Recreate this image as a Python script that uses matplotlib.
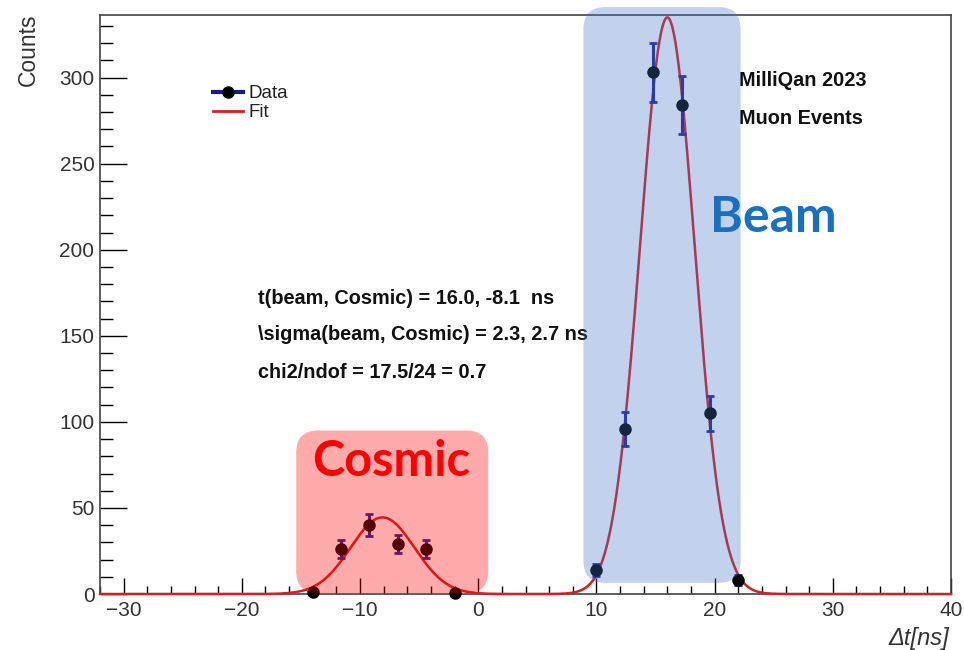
import numpy as np
import matplotlib
matplotlib.use("Agg")
import matplotlib.pyplot as plt
from matplotlib.patches import FancyBboxPatch
from matplotlib.lines import Line2D
from matplotlib.ticker import MultipleLocator

# ---- data ----
bin_centers = [-14.0, -11.6, -9.2, -6.8, -4.4, -2.0, 10.0, 12.4, 14.8, 17.2, 19.6, 22.0]
counts      = [1, 26, 40, 29, 26, 0.5, 14, 96, 303, 284, 105, 8]
count_errs  = [1.0, 5.1, 6.3, 5.4, 5.1, 0.7, 3.7, 9.8, 17.4, 16.9, 10.2, 2.8]

# fit parameters (double Gaussian)
beam_amp, beam_mean, beam_sigma = 335.0, 16.0, 2.3
cosmic_amp, cosmic_mean, cosmic_sigma = 44.5, -8.1, 2.7

x_ticks = [-30, -20, -10, 0, 10, 20, 30, 40]
x_tick_labels = ["\u221230", "\u221220", "\u221210", "0", "10", "20", "30", "40"]
y_ticks = [0, 50, 100, 150, 200, 250, 300]

stats_lines = ["t(beam, Cosmic) = 16.0, -8.1  ns",
               "\\sigma(beam, Cosmic) = 2.3, 2.7 ns",
               "chi2/ndof = 17.5/24 = 0.7"]

# highlighted regions in data units: (x0, x1, y0, y1)
cosmic_region = (-15.4, 0.85, 0.5, 95)
beam_region = (8.9, 22.2, 6.5, 341)

W, H = 964, 650
fig = plt.figure(figsize=(W / 100, H / 100), dpi=100)
fig.patch.set_facecolor("white")
ax = fig.add_axes([100 / W, (H - 594) / H, (951 - 100) / W, (594 - 15) / H])
ax.set_facecolor("white")

ax.set_xlim(-32, 40)
ax.set_ylim(0, 336.4)

# fit curve
xf = np.linspace(-32, 40, 2000)
yf = (beam_amp * np.exp(-(xf - beam_mean) ** 2 / (2 * beam_sigma ** 2))
      + cosmic_amp * np.exp(-(xf - cosmic_mean) ** 2 / (2 * cosmic_sigma ** 2)))
ax.plot(xf, yf, color="#d42020", lw=1.8, zorder=3, clip_on=False)

# data
ax.errorbar(bin_centers, counts, yerr=count_errs, fmt="o", color="black",
            ms=8, ecolor="#22229a", elinewidth=2.2, capsize=3, capthick=2,
            zorder=4, clip_on=False)

# axes styling
ax.set_xticks(x_ticks)
ax.set_yticks(y_ticks)
ax.set_xticklabels(x_tick_labels)
ax.xaxis.set_minor_locator(MultipleLocator(2))
ax.yaxis.set_minor_locator(MultipleLocator(10))
for lbl in ax.get_xticklabels() + ax.get_yticklabels():
    lbl.set_fontfamily("Liberation Sans")
    lbl.set_fontsize(15)
    lbl.set_color("#333333")
ax.tick_params(axis="x", which="major", direction="in", length=11.5, width=1, pad=5, top=False)
ax.tick_params(axis="x", which="minor", direction="in", length=5.8, width=1, top=False)
ax.tick_params(axis="y", which="major", direction="in", length=19.5, width=1, pad=4, right=False)
ax.tick_params(axis="y", which="minor", direction="in", length=9.5, width=1, right=False)
for s in ax.spines.values():
    s.set_color("#444444")
    s.set_linewidth(1.2)

fig.text(28 / W, 1 - 14 / H, "Counts", rotation=90, ha="center", va="top",
         fontsize=16.5, family="Liberation Sans", color="#333333")
fig.text(949 / W, 1 - 638 / H, "\u0394t[ns]", ha="right", va="center",
         fontsize=17, family="Liberation Sans", style="italic", color="#333333")

# legend
handles = [Line2D([], [], color="#1a1a80", lw=3, marker="o", mfc="black", mec="black", ms=8),
           Line2D([], [], color="#d42020", lw=2)]
leg = ax.legend(handles, ["Data", "Fit"], loc="upper left",
                bbox_to_anchor=((213 - 100) / 851, 1 - (85 - 15) / 579),
                frameon=False, handlelength=1.6, handletextpad=0.3,
                labelspacing=0.1, borderpad=0, borderaxespad=0,
                prop={"family": "Liberation Sans", "size": 13.5})
for t in leg.get_texts():
    t.set_color("#222222")

# stats text
for i, line in enumerate(stats_lines):
    fig.text(258 / W, 1 - (298 + 37 * i) / H, line, ha="left", va="center",
             fontsize=14.3, family="Liberation Sans", fontweight="bold", color="#111111")

fig.text(739 / W, 1 - 80 / H, "MilliQan 2023", ha="left", va="center",
         fontsize=14.3, family="Liberation Sans", fontweight="bold", color="#111111")
fig.text(739 / W, 1 - 118 / H, "Muon Events", ha="left", va="center",
         fontsize=14.3, family="Liberation Sans", fontweight="bold", color="#111111")

# highlight boxes (built from data-unit regions, drawn in display pixels)
def add_region(region, color, alpha):
    x0, x1, y0, y1 = region
    (px0, py0), (px1, py1) = ax.transData.transform([(x0, y0), (x1, y1)])
    patch = FancyBboxPatch((px0, py0), px1 - px0, py1 - py0,
                           boxstyle="round,pad=0,rounding_size=22",
                           transform=None, facecolor=color, alpha=alpha,
                           edgecolor="none", zorder=5, clip_on=False)
    fig.add_artist(patch)

add_region(cosmic_region, "#ff0000", 0.33)
add_region(beam_region, "#4472c4", 0.32)

fig.text(391 / W, 1 - 462 / H, "Cosmic", ha="center", va="center", fontsize=35,
         family="Lato", fontweight="bold", color="#ff0000", zorder=10)
fig.text(773 / W, 1 - 218 / H, "Beam", ha="center", va="center", fontsize=36,
         family="Lato", fontweight="bold", color="#1a70c0", zorder=10)

fig.savefig("out.png", dpi=100)
